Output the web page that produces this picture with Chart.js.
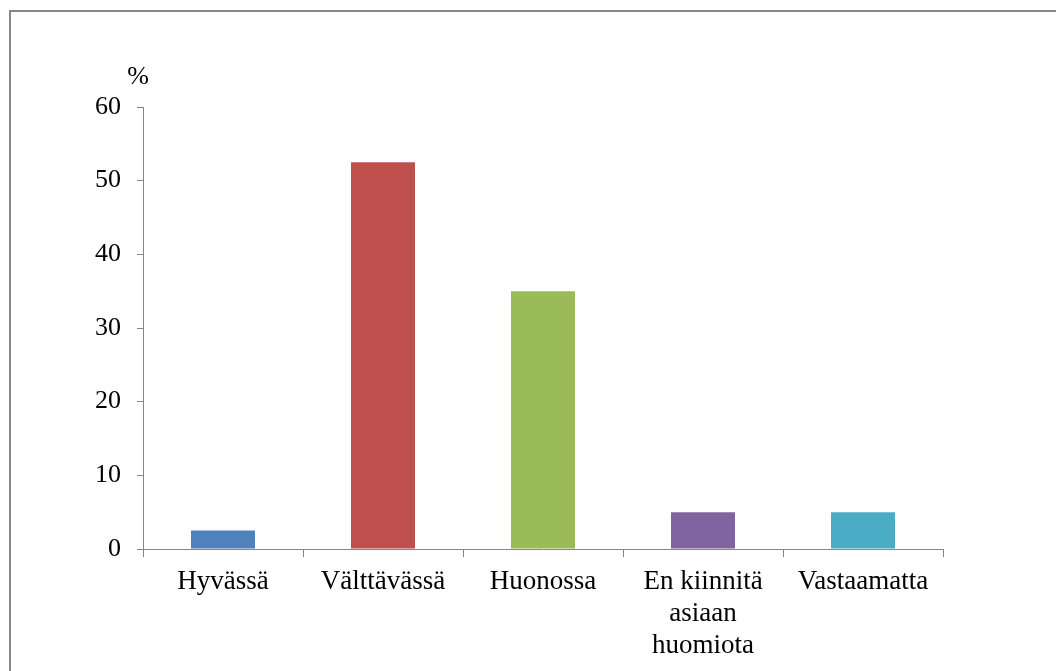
<!DOCTYPE html>
<html>
<head>
<meta charset="utf-8">
<script src="https://cdn.jsdelivr.net/npm/chart.js@4"></script>
<style>
html,body{margin:0;padding:0;background:#fff;}
#wrap{position:relative;width:1056px;height:671px;}
</style>
</head>
<body>
<div id="wrap"><canvas id="c" width="1056" height="671"></canvas></div>
<script>
const categories = ["Hyvässä", "Välttävässä", "Huonossa", ["En kiinnitä", "asiaan", "huomiota"], "Vastaamatta"];
const values = [2.5, 52.5, 35, 5, 5];
const barColors = ["#4F81BD", "#C0504D", "#9BBB59", "#8064A2", "#4BACC6"];
const yUnit = "%";
const yMin = 0, yMax = 60, yStep = 10;

const FONT = "'Liberation Serif', 'Times New Roman', serif";

const framePlugin = {
  id: 'frame',
  afterDraw(chart) {
    const ctx = chart.ctx;
    ctx.save();
    ctx.strokeStyle = '#868686';
    ctx.lineWidth = 2;
    ctx.strokeRect(10, 11, 2000, 2000);
    ctx.fillStyle = '#000';
    ctx.font = "26px " + FONT;
    ctx.textAlign = 'center';
    ctx.textBaseline = 'middle';
    ctx.fillText(yUnit, 138, 77);
    ctx.restore();
  }
};

new Chart(document.getElementById('c'), {
  type: 'bar',
  data: {
    labels: categories,
    datasets: [{
      data: values,
      backgroundColor: barColors,
      borderWidth: 0,
      barPercentage: 0.4,
      categoryPercentage: 1.0
    }]
  },
  options: {
    responsive: false,
    animation: false,
    devicePixelRatio: 1,
    layout: { padding: { left: 0, top: 107, right: 113, bottom: 0 } },
    plugins: { legend: { display: false }, tooltip: { enabled: false } },
    scales: {
      y: {
        min: yMin, max: yMax,
        afterFit(s) { s.width = 143; },
        ticks: { stepSize: yStep, color: '#000', padding: 16, font: { family: FONT, size: 26 } },
        grid: { drawOnChartArea: false, drawTicks: true, tickLength: 6, color: '#868686' },
        border: { color: '#868686', width: 1 }
      },
      x: {
        afterFit(s) { s.height = 122; },
        ticks: { color: '#000', padding: 9, maxRotation: 0, autoSkip: false, font: { family: FONT, size: 27, lineHeight: 1.185 } },
        grid: { drawOnChartArea: false, drawTicks: true, tickLength: 8, color: '#868686', offset: true },
        border: { color: '#868686', width: 1 }
      }
    }
  },
  plugins: [framePlugin]
});
</script>
</body>
</html>
